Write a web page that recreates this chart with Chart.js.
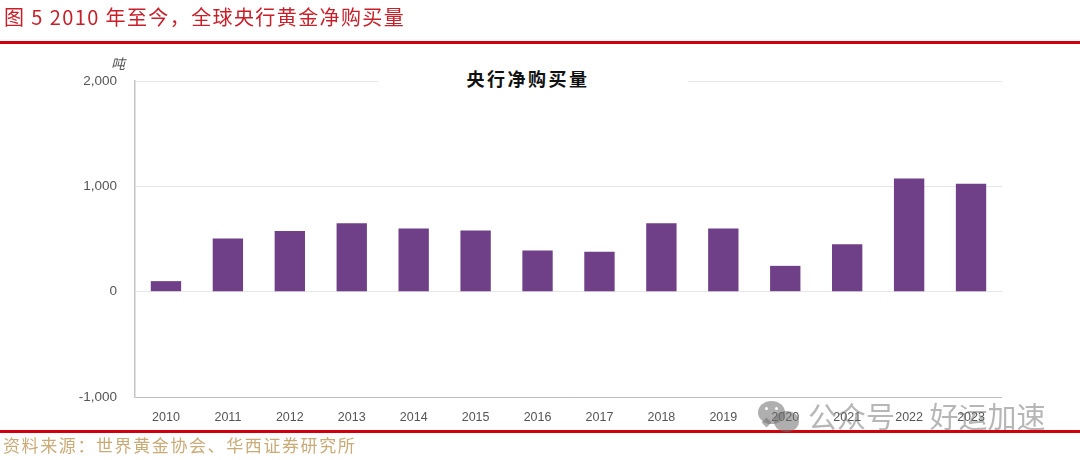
<!DOCTYPE html>
<html>
<head>
<meta charset="utf-8">
<script src="https://cdn.jsdelivr.net/npm/chart.js@4"></script>
<style>
html, body { margin: 0; padding: 0; background: #fff; }
#wrap { position: relative; width: 1080px; height: 460px; overflow: hidden; font-family: "Noto Sans CJK SC", sans-serif; }
#wrap canvas { position: absolute; left: 0; top: 0; }
.abs { position: absolute; white-space: nowrap; }
#fig { left: 4px; top: 4px; font-size: 20px; line-height: 26px; letter-spacing: 1.4px; color: #c8202a; }
#rule1 { left: 0; top: 41px; width: 1080px; height: 3px; background: #d0000c; }
#rule2 { left: 0; top: 430px; width: 1080px; height: 3px; background: #d0000c; }
#source { left: 3px; top: 434px; font-size: 17px; line-height: 22px; letter-spacing: 1.6px; color: #c9ab78; }
#unit { left: 111px; top: 54px; font-size: 14px; line-height: 18px; font-style: italic; color: #555; }
#title { left: 378px; top: 65px; width: 300px; padding-right: 10px; text-align: center; font-size: 18px; line-height: 26px; font-weight: 700; letter-spacing: 2.5px; color: #111; background: #fff; }
#mark { left: 808px; top: 395px; font-size: 29px; line-height: 40px; word-spacing: 28px; color: rgba(110,110,110,0.5); }
.bub { position: absolute; border-radius: 50%; background: rgba(110,110,110,0.55); }
.tail { position: absolute; width: 7px; height: 7px; background: rgba(110,110,110,0.55); transform: rotate(45deg); }
.eye { position: absolute; width: 3px; height: 3px; border-radius: 50%; background: #fff; }
</style>
</head>
<body>
<div id="wrap">
  <canvas id="goldChart" width="1080" height="460"></canvas>
  <div class="abs" id="fig">图 5 2010 年至今，全球央行黄金净购买量</div>
  <div class="abs" id="rule1"></div>
  <div class="abs" id="unit">吨</div>
  <div class="abs" id="title">央行净购买量</div>
  <div class="abs" id="rule2"></div>
  <div class="abs" id="source">资料来源：世界黄金协会、华西证券研究所</div>
  <div class="bub" style="left:758px;top:401px;width:27px;height:23px"></div>
  <div class="tail" style="left:763px;top:419px"></div>
  <div class="bub" style="left:774px;top:411px;width:25px;height:21px"></div>
  <div class="eye" style="left:765px;top:407px"></div>
  <div class="eye" style="left:775px;top:407px"></div>
  <div class="abs" id="mark">公众号 好运加速</div>
</div>
<script>
const years = ['2010', '2011', '2012', '2013', '2014', '2015', '2016', '2017', '2018', '2019', '2020', '2021', '2022', '2023'];
const netPurchases = [100, 505, 575, 650, 600, 580, 390, 380, 650, 600, 245, 450, 1075, 1025];
const yTicks = [-1000, 0, 1000, 2000];

const goldCtx = document.getElementById('goldChart');
new Chart(goldCtx, {
    type: 'bar',
    data: {
        labels: years,
        datasets: [{
            label: '央行净购买量',
            data: netPurchases,
            backgroundColor: '#6f3f87',
            barPercentage: 0.49,
            categoryPercentage: 1,
        }],
    },
    options: {
        responsive: false,
        animation: false,
        layout: { padding: { left: 0, right: 78, top: 81, bottom: 0 } },
        plugins: { legend: { display: false }, tooltip: { enabled: false } },
        scales: {
            x: {
                position: 'bottom',
                grid: { display: false },
                border: { display: false },
                ticks: { color: '#555', font: { family: 'Liberation Sans', size: 12.5 }, maxRotation: 0, padding: 5 },
                afterFit: (scale) => { scale.height = 63; },
            },
            y: {
                min: -1000,
                max: 2000,
                afterBuildTicks: (scale) => { scale.ticks = yTicks.map((value) => ({ value })); },
                grid: {
                    color: (c) => (c.tick.value === -1000 ? '#bdbdbd' : '#e6e6e6'),
                    drawTicks: false,
                },
                border: { display: true, color: '#c4c4c4', width: 1.5 },
                ticks: {
                    color: '#555',
                    font: { family: 'Liberation Sans', size: 13.5 },
                    padding: 18,
                    callback: (v) => v.toLocaleString('en-US'),
                },
                afterFit: (scale) => { scale.width = 135; },
            },
        },
    },
});
</script>
</body>
</html>
